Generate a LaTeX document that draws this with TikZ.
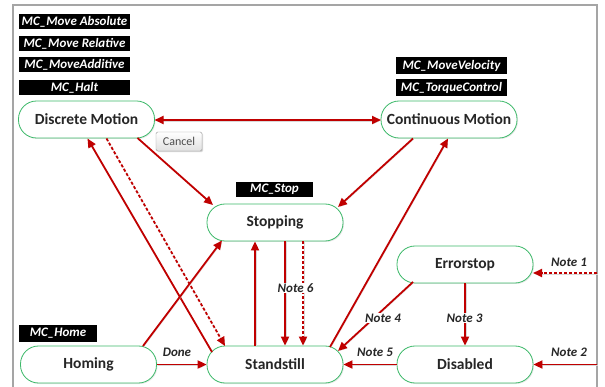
\documentclass[tikz,border=0pt]{standalone}
\usepackage{fontspec}
\setmainfont{Carlito}
\usetikzlibrary{arrows.meta,calc,shadows}
\definecolor{arrred}{RGB}{192,0,0}
\definecolor{stgreen}{RGB}{60,185,105}
\definecolor{frame}{RGB}{165,165,165}
\begin{document}
\begin{tikzpicture}[x=1pt,y=-1pt,
  state/.style={draw=stgreen, line width=0.8pt, fill=white, rounded corners=18pt,
    minimum width=136pt, minimum height=37pt, inner sep=0pt,
    drop shadow={opacity=0.18, shadow xshift=1pt, shadow yshift=-1pt},
    font=\fontsize{15.5}{18}\selectfont\bfseries, text=black!85},
  cmd/.style={fill=black, text=white, minimum height=15pt, inner sep=0pt,
    font=\fontsize{13}{15}\selectfont\bfseries\itshape},
  note/.style={font=\fontsize{13}{15}\selectfont\bfseries\itshape, text=black!85, inner sep=1pt},
  notebg/.style={note, fill=white},
  shad/.style={preaction={draw=black!15, transform canvas={shift={(0.8pt,-0.8pt)}}}},
  conn/.style={draw=arrred, line width=1.8pt, -{Triangle[length=9pt,width=8pt]}, shad},
  dconn/.style={conn, dash pattern=on 3pt off 2pt},
  biconn/.style={conn, {Triangle[length=9pt,width=8pt]}-{Triangle[length=9pt,width=8pt]}}
]
\useasboundingbox (0,0) rectangle (605,387);
\fill[white] (0,0) rectangle (605,387);
\draw[frame, line width=2pt] (12.5,390) -- (12.5,5) -- (597,5) -- (597,390);

% command labels
\node[cmd, minimum width=111pt] (mabs) at (74.5,21.5) {MC\_Move Absolute};
\node[cmd, minimum width=111pt] (mrel) at (74.5,43.5) {MC\_Move Relative};
\node[cmd, minimum width=111pt] (madd) at (74.5,65) {MC\_MoveAdditive};
\node[cmd, minimum width=111pt] (mhalt) at (74.5,87.5) {MC\_Halt};
\node[cmd, minimum width=111pt, minimum height=16.5pt] (mvel) at (451.5,65.5) {MC\_MoveVelocity};
\node[cmd, minimum width=111pt, minimum height=16.5pt] (mtq) at (451.5,87.5) {MC\_TorqueControl};
\node[cmd, minimum width=77pt] (mstop) at (274.5,189.5) {MC\_Stop};
\node[cmd, minimum width=78pt, minimum height=17pt] (mhome) at (58,333) {MC\_Home};

% states
\node[state] (dm) at (86.5,119.5) {Discrete Motion};
\node[state] (cm) at (449,119.5) {Continuous Motion};
\node[state] (stop) at (275,222.5) {Stopping};
\node[state] (err) at (465,264.5) {Errorstop};
\node[state] (dis) at (465,364.5) {Disabled};
\node[state] (hom) at (88.5,364.5) {Homing};
\node[state] (ss) at (275,364.5) {Standstill};

% free ends
\coordinate (in1) at (597,273);
\coordinate (in2) at (597,364.5);

% connectors
\draw[biconn] ($(dm)+(68,0.5)$) -- ($(cm)+(-68,0.5)$);
\draw[conn] ($(dm)+(51,18.5)$) -- ($(stop)+(-62,-17.5)$);
\draw[conn] ($(ss)+(-63,-12.5)$) -- ($(dm)+(1,19)$);
\draw[dconn] ($(dm)+(20,19)$) -- ($(ss)+(-50,-18.5)$);
\draw[conn] ($(cm)+(-36,19)$) -- ($(stop)+(63,-15.5)$);
\draw[conn] ($(ss)+(55,-17.5)$) -- ($(cm)+(-1,19)$);
\draw[conn] ($(hom)+(54.5,-18.5)$) -- ($(stop)+(-53,18)$);
\draw[conn] ([xshift=-20pt]ss.north) -- ([xshift=-20pt]stop.south);
\draw[conn] ([xshift=10pt]stop.south) -- ([xshift=10pt]ss.north);
\draw[dconn] ([xshift=28pt]stop.south) -- ([xshift=28pt]ss.north);
\node[notebg] (n6) at (295.5,288) {Note 6};
\draw[conn] ($(err)+(-52,17.5)$) -- ($(ss)+(63,-13.5)$);
\node[notebg] (n4) at (383,318) {Note 4};
\draw[conn] (dis.west) -- (ss.east);
\node[note] (n5) at (375,352.5) {Note 5};
\draw[conn] (err.south) -- (dis.north);
\node[notebg] (n3) at (464.5,318) {Note 3};
\draw[dconn] (in1) -- ($(err)+(68,8.5)$);
\node[note] (n1) at (569,262) {Note 1};
\draw[conn] (in2) -- (dis.east);
\node[note] (n2) at (569,352) {Note 2};
\draw[conn] (hom.east) -- (ss.west);
\node[note] (ndone) at (177,352) {Done};

% tooltip button
\node[draw=black!40, rounded corners=1.5pt, minimum width=46pt, minimum height=19pt, inner sep=0pt,
  top color=white, bottom color=black!12,
  drop shadow={opacity=0.3, shadow xshift=1.2pt, shadow yshift=-1.2pt},
  font=\fontsize{12}{14}\selectfont, text=black!70] (cancel) at (179,141.5) {Cancel};
\end{tikzpicture}
\end{document}
